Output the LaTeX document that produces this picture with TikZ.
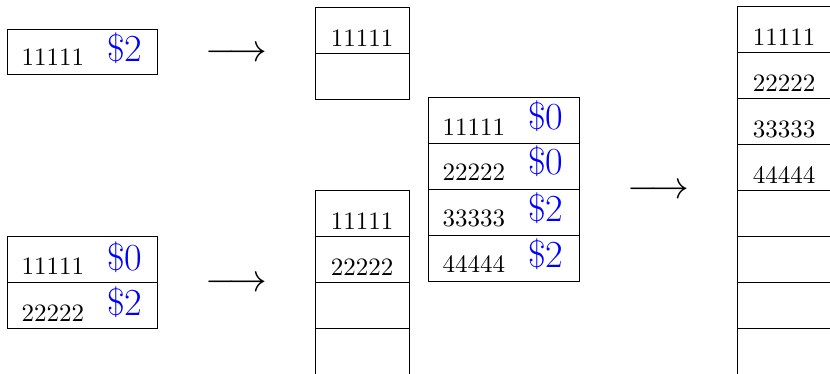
\RequirePackage{fix-cm}
\documentclass[tikz,border=0pt]{standalone}
\usetikzlibrary{calc}
\begin{document}
\begin{tikzpicture}[x=0.4pt,y=-0.4pt,
  cell/.style={draw, rectangle, anchor=north west, inner sep=0pt, outer sep=0pt, minimum height=18.4pt},
  wide/.style={cell, minimum width=60pt},
  widex/.style={cell, minimum width=60.4pt},
  narrow/.style={cell, minimum width=37.6pt},
  key/.style={anchor=base west, inner sep=0pt},
  ckey/.style={anchor=base, inner sep=0pt},
  cost/.style={anchor=base east, inner sep=0pt, text=blue, font=\fontsize{15.3pt}{18pt}\selectfont},
  arrowsym/.style={anchor=base, inner sep=0pt, font=\fontsize{15.5pt}{18pt}\selectfont}]
\useasboundingbox (0,0) rectangle (830,373);

% single entry, before growth
\node[wide, minimum height=18pt] (l1) at (7,29) {};
\node[key]  (l1k) at ($(l1.south west)+(14,-9)$) {11111};
\node[cost] (l1c) at ($(l1.south east)+(-14,-13)$) {\$2};

% two entries, before growth
\node[wide] (b1) at (7,236) {};
\node[wide] (b2) at (b1.south west) {};
\node[key]  (b1k) at ($(b1.south west)+(14,-8)$) {11111};
\node[cost] (b1c) at ($(b1.south east)+(-14,-12)$) {\$0};
\node[key]  (b2k) at ($(b2.south west)+(14,-7)$) {22222};
\node[cost] (b2c) at ($(b2.south east)+(-14,-13)$) {\$2};

% arrows
\node[arrowsym] (arr1) at (236.5,61) {$\longrightarrow$};
\node[arrowsym] (arr2) at (236.5,291) {$\longrightarrow$};
\node[arrowsym] (arr3) at (658.5,198) {$\longrightarrow$};

% table of size 2
\node[narrow] (m1) at (315,7) {};
\node[narrow] (m2) at (m1.south west) {};
\node[ckey] (m1k) at ($(m1.south)+(0,-7)$) {11111};

% table of size 4
\node[narrow] (n1) at (315,190) {};
\node[narrow] (n2) at (n1.south west) {};
\node[narrow] (n3) at (n2.south west) {};
\node[narrow] (n4) at (n3.south west) {};
\node[ckey] (n1k) at ($(n1.south)+(0,-7)$) {11111};
\node[ckey] (n2k) at ($(n2.south)+(0,-7)$) {22222};

% four entries, before growth
\node[widex] (r1) at (428,97) {};
\node[widex] (r2) at (r1.south west) {};
\node[widex] (r3) at (r2.south west) {};
\node[widex] (r4) at (r3.south west) {};
\node[key]  (r1k) at ($(r1.south west)+(14,-8)$) {11111};
\node[cost] (r1c) at ($(r1.south east)+(-15,-14)$) {\$0};
\node[key]  (r2k) at ($(r2.south west)+(14,-9)$) {22222};
\node[cost] (r2c) at ($(r2.south east)+(-15,-15)$) {\$0};
\node[key]  (r3k) at ($(r3.south west)+(14,-9)$) {33333};
\node[cost] (r3c) at ($(r3.south east)+(-15,-14)$) {\$2};
\node[key]  (r4k) at ($(r4.south west)+(14,-9)$) {44444};
\node[cost] (r4c) at ($(r4.south east)+(-15,-14)$) {\$2};

% table of size 8
\node[narrow] (f1) at (737,6) {};
\node[narrow] (f2) at (f1.south west) {};
\node[narrow] (f3) at (f2.south west) {};
\node[narrow] (f4) at (f3.south west) {};
\node[narrow] (f5) at (f4.south west) {};
\node[narrow] (f6) at (f5.south west) {};
\node[narrow] (f7) at (f6.south west) {};
\node[narrow] (f8) at (f7.south west) {};
\node[ckey] (f1k) at ($(f1.south)+(0,-7)$) {11111};
\node[ckey] (f2k) at ($(f2.south)+(0,-7)$) {22222};
\node[ckey] (f3k) at ($(f3.south)+(0,-7)$) {33333};
\node[ckey] (f4k) at ($(f4.south)+(0,-7)$) {44444};
\end{tikzpicture}
\end{document}
